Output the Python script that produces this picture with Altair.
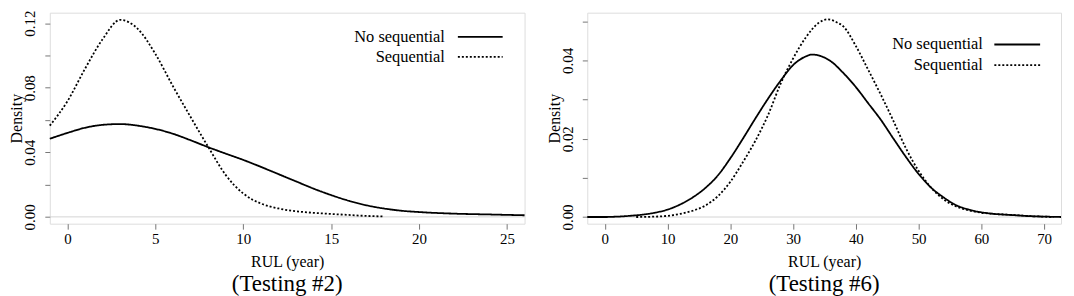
import altair as alt
import pandas as pd

SERIES = ["No sequential", "Sequential"]
PANEL_TITLES = ["(Testing #2)", "(Testing #6)"]
X_TITLE = "RUL (year)"
Y_TITLE = "Density"

# ---- Testing #2 ----
t2_nseq_x = [-1, 0, 1, 2, 3, 4, 5, 6, 7, 8, 9, 10, 11, 12, 13, 14, 15, 16, 17, 18, 19, 20, 22, 24, 26]
t2_nseq_y = [0.0484, 0.0520, 0.0552, 0.0570, 0.0575, 0.0565, 0.0545, 0.0515, 0.0475, 0.0432,
             0.0392, 0.0353, 0.0310, 0.0265, 0.0220, 0.0175, 0.0135, 0.0100, 0.0072, 0.0052,
             0.0038, 0.0030, 0.0020, 0.0015, 0.0010]
t2_seq_x = [-1, 0, 1, 2, 3, 4, 5, 6, 7, 8, 9, 10, 11, 12, 13, 14, 15, 16, 17, 18]
t2_seq_y = [0.0565, 0.0716, 0.0917, 0.1100, 0.1220, 0.1165, 0.1010, 0.0810, 0.0620, 0.0435,
            0.0260, 0.0145, 0.0083, 0.0052, 0.0035, 0.0025, 0.0018, 0.0012, 0.0006, 0.0003]
t2_xticks = [0, 5, 10, 15, 20, 25]
t2_yticks = [0.0, 0.02, 0.04, 0.06, 0.08, 0.10, 0.12]
t2_xdomain = [-1.0, 26.0]
t2_ydomain = [-0.0042, 0.1265]

# ---- Testing #6 ----
t6_nseq_x = [-2.8, 0, 2, 4, 6, 8, 10, 12, 14, 16, 18, 20, 22, 24, 26, 28, 30, 32, 33, 34,
             36, 38, 40, 42, 44, 46, 48, 50, 52, 54, 56, 58, 60, 62, 65, 68, 70, 72.7]
t6_nseq_y = [0.0000, 0.0000, 0.0001, 0.0003, 0.0006, 0.0011, 0.0019, 0.0032, 0.0050, 0.0074,
             0.0106, 0.0150, 0.0200, 0.0252, 0.0302, 0.0348, 0.0388, 0.0410, 0.0415,
             0.0413, 0.0398, 0.0368, 0.0332, 0.0290, 0.0248, 0.0200, 0.0153, 0.0110, 0.0075,
             0.0050, 0.0030, 0.0019, 0.0012, 0.0008, 0.0005, 0.0002, 0.0001, 0.0000]
t6_seq_x = [5, 8, 10, 12, 14, 16, 18, 20, 22, 24, 26, 28, 30, 32, 34, 35.5, 37, 38, 40, 42, 44,
            46, 48, 50, 52, 54, 56, 58, 60, 62, 64, 66, 68, 70, 71.5]
t6_seq_y = [0.0000, 0.0001, 0.0003, 0.0008, 0.0016, 0.0029, 0.0053, 0.0090, 0.0140, 0.0195,
            0.0260, 0.0340, 0.0405, 0.0458, 0.0495, 0.0505, 0.0497, 0.0487, 0.0437, 0.0375,
            0.0312, 0.0245, 0.0175, 0.0118, 0.0075, 0.0045, 0.0027, 0.0017, 0.0011, 0.0008,
            0.0006, 0.0004, 0.0002, 0.0001, 0.0000]
t6_xticks = [0, 10, 20, 30, 40, 50, 60, 70]
t6_yticks = [0.0, 0.01, 0.02, 0.03, 0.04, 0.05]
t6_xdomain = [-2.8, 72.7]
t6_ydomain = [-0.0017, 0.0522]

FONT = "Liberation Serif"
H = 212
GREY = "#777777"


def legend_layers(text_x, line_x1, line_x2, rows_y):
    layers = []
    for i, name in enumerate(SERIES):
        d = pd.DataFrame({"label": [name]})
        t = alt.Chart(d).mark_text(align="right", baseline="middle", font=FONT,
                                   fontSize=16.5, color="black").encode(
            text="label:N", x=alt.value(text_x), y=alt.value(rows_y[i]))
        rule_kw = dict(color="black", strokeWidth=1.8)
        if i == 1:
            rule_kw["strokeDash"] = [2, 2]
        r = alt.Chart(d).mark_rule(**rule_kw).encode(
            x=alt.value(line_x1), x2=alt.value(line_x2), y=alt.value(rows_y[i]))
        layers += [t, r]
    return layers


def panel(nx, ny, sx, sy, xdom, ydom, xticks, yticks, step, width, title, leg):
    df = pd.concat([
        pd.DataFrame({"x": nx, "y": ny, "series": SERIES[0]}),
        pd.DataFrame({"x": sx, "y": sy, "series": SERIES[1]}),
    ], ignore_index=True)
    xs = alt.Scale(domain=xdom, nice=False, zero=False)
    ys = alt.Scale(domain=ydom, nice=False, zero=False)

    xaxis = alt.Axis(values=xticks, title=X_TITLE, grid=False, domain=False,
                     tickColor=GREY, tickSize=5.5, labelPadding=2, labelFontSize=15,
                     labelFont=FONT, labelColor="black", titleFont=FONT, titleFontSize=16,
                     titleFontWeight="normal", titleColor="black", titlePadding=8,
                     labelFlush=False, labelOverlap=False, format="d")
    yaxis = alt.Axis(values=yticks, title=Y_TITLE, grid=False, domain=False,
                     labelExpr=f"round(datum.value*100) % {step} == 0 ? format(datum.value, '.2f') : ''",
                     tickColor=GREY, tickSize=5, labelAngle=270, labelAlign="center",
                     labelBaseline="bottom", labelPadding=7, labelFontSize=15, labelFont=FONT,
                     labelColor="black", titleFont=FONT, titleFontSize=16,
                     titleFontWeight="normal", titleColor="black", titlePadding=0,
                     minExtent=25, maxExtent=25, labelFlush=False, labelOverlap=False)

    zero = alt.Chart(pd.DataFrame({"y": [0.0]})).mark_rule(
        color="#d4d4d4", strokeWidth=1).encode(y=alt.Y("y:Q", scale=ys, axis=yaxis))

    lines = alt.Chart(df).mark_line(color="black", strokeWidth=1.8, interpolate="monotone").encode(
        x=alt.X("x:Q", scale=xs, axis=xaxis),
        y=alt.Y("y:Q", scale=ys, axis=yaxis),
        strokeDash=alt.StrokeDash("series:N", scale=alt.Scale(domain=SERIES, range=[[1, 0], [2, 2]]),
                                  legend=None),
    )
    layers = [zero, lines] + legend_layers(*leg)
    return alt.layer(*layers).properties(
        width=width, height=H,
        title=alt.TitleParams(title, orient="bottom", fontSize=23, font=FONT,
                              fontWeight="normal", color="black", offset=3, anchor="middle"),
    )


left = panel(t2_nseq_x, t2_nseq_y, t2_seq_x, t2_seq_y, t2_xdomain, t2_ydomain,
             t2_xticks, t2_yticks, 4, 477, PANEL_TITLES[0], (397, 410, 455, [24.4, 44.4]))
right = panel(t6_nseq_x, t6_nseq_y, t6_seq_x, t6_seq_y, t6_xdomain, t6_ydomain,
              t6_xticks, t6_yticks, 2, 476, PANEL_TITLES[1], (397.5, 409, 455, [32, 52.7]))

chart = alt.hconcat(left, right, spacing=63, bounds="flush").properties(
    padding={"left": 0, "top": 0, "right": 0, "bottom": 0}
).configure_view(stroke="#606060", strokeWidth=1).configure(font=FONT)

chart.save("out.html", embed_options={"renderer": "svg", "actions": False})
